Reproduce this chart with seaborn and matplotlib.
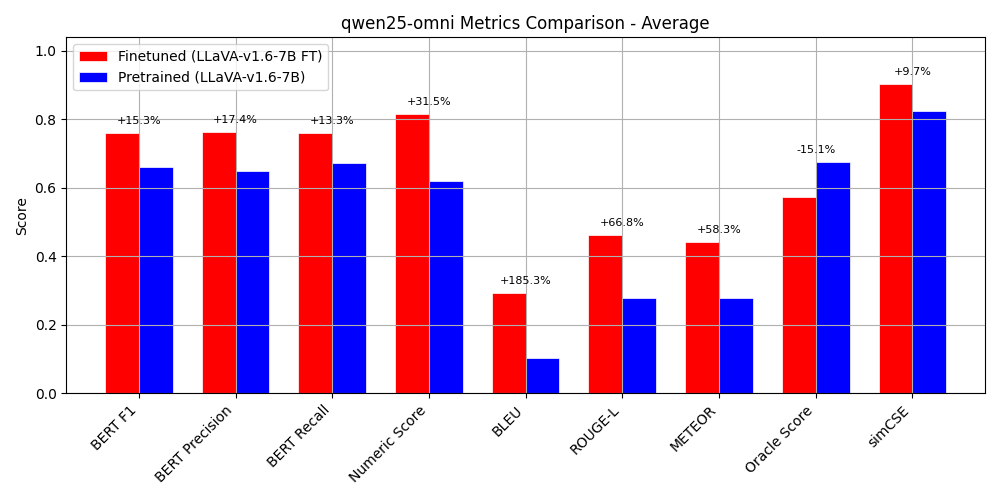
import numpy as np
import pandas as pd
import matplotlib
matplotlib.use("Agg")
import matplotlib.pyplot as plt
import seaborn as sns

metrics = ["BERT F1", "BERT Precision", "BERT Recall", "Numeric Score", "BLEU",
           "ROUGE-L", "METEOR", "Oracle Score", "simCSE"]
finetuned = [0.760, 0.763, 0.760, 0.815, 0.293, 0.463, 0.441, 0.573, 0.903]
pretrained = [0.659, 0.650, 0.671, 0.620, 0.1027, 0.2776, 0.2786, 0.675, 0.823]
ft_name = "Finetuned (LLaVA-v1.6-7B FT)"
pt_name = "Pretrained (LLaVA-v1.6-7B)"

df = pd.DataFrame({
    "metric": metrics * 2,
    "score": finetuned + pretrained,
    "model": [ft_name] * len(metrics) + [pt_name] * len(metrics),
})

fig, ax = plt.subplots(figsize=(10, 5), dpi=100)
sns.barplot(data=df, x="metric", y="score", hue="model", order=metrics,
            palette={ft_name: "red", pt_name: "blue"}, saturation=1,
            width=0.7, edgecolor="white", linewidth=0.5, ax=ax)

for i, (f, p) in enumerate(zip(finetuned, pretrained)):
    pct = (f - p) / p * 100
    ax.text(i, max(f, p) + 0.02, f"{pct:+.1f}%", ha="center", va="bottom", fontsize=8)

ax.set_ylim(0, max(finetuned + pretrained) * 1.15)
ax.set_xlim(-0.5 - 0.25, len(metrics) - 0.5 + 0.25)
ax.set_title("qwen25-omni Metrics Comparison - Average")
ax.set_xlabel("")
ax.set_ylabel("Score")
ax.set_xticks(range(len(metrics)))
ax.set_xticklabels(metrics, rotation=45, ha="right")
ax.grid(True)
ax.legend(loc="upper left", title=None)
plt.tight_layout()
plt.savefig("out.png")
